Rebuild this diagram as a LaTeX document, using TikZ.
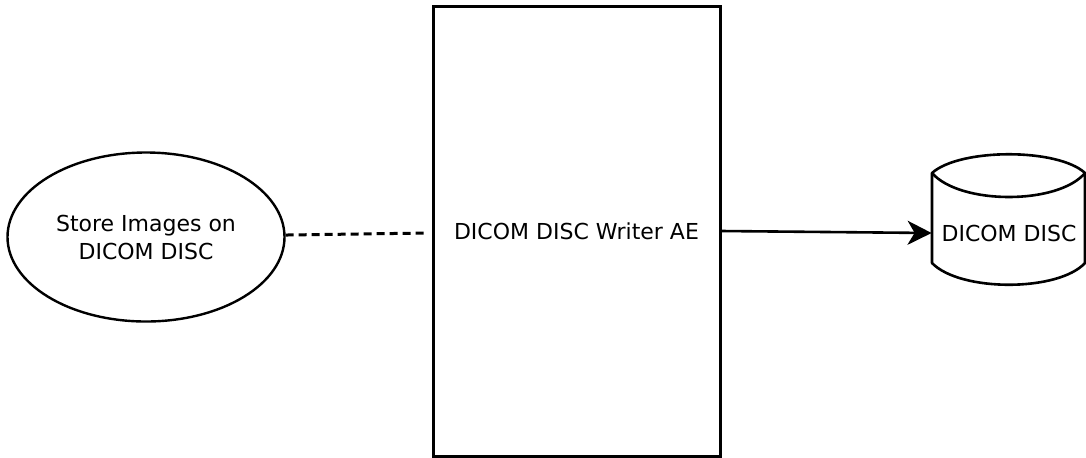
\documentclass[tikz,border=0pt]{standalone}
\usepackage{fontspec}
\setmainfont{DejaVu Sans}
\usetikzlibrary{arrows.meta,shapes.geometric}

\begin{document}
\begin{tikzpicture}[x=.5pt,y=-.5pt,
    every node/.style={font=\fontsize{11}{14}\selectfont,align=center},
    usecase/.style={ellipse,draw,line width=1.2pt,minimum width=138.5pt,minimum height=84.5pt,inner sep=0pt},
    aebox/.style={rectangle,draw,line width=1.5pt,minimum width=143.5pt,minimum height=225pt,inner sep=0pt},
    media/.style={rectangle,minimum width=77pt,inner sep=0pt}]
  \useasboundingbox (0,0) rectangle (1086,457);
  \node[usecase] (store) at (146,237) {Store Images on\\DICOM DISC};
  \node[aebox] (writer) at (576.5,231) {\raisebox{-5pt}{DICOM DISC Writer AE}};
  \node[media] (disc) at (1009,233) {DICOM DISC};
  \coordinate (dashend) at (428,233);
  % disc outline
  \draw[line width=1.3pt,line join=round] (932,173) -- (932,263) .. controls (960,292) and (1058,292) .. (1085,263)
        -- (1085,173) .. controls (1058,148) and (960,148) .. cycle;
  \draw[line width=1.3pt] (932,173) .. controls (960,205) and (1058,205) .. (1085,173);
  % connectors
  \draw[line width=1.5pt,dash pattern=on 4pt off 2.5pt] (store) -- (dashend);
  \draw[line width=1.3pt,-{Stealth[length=12pt,width=12pt,inset=3.5pt]}] (writer.east) -- (disc.west);
\end{tikzpicture}
\end{document}
